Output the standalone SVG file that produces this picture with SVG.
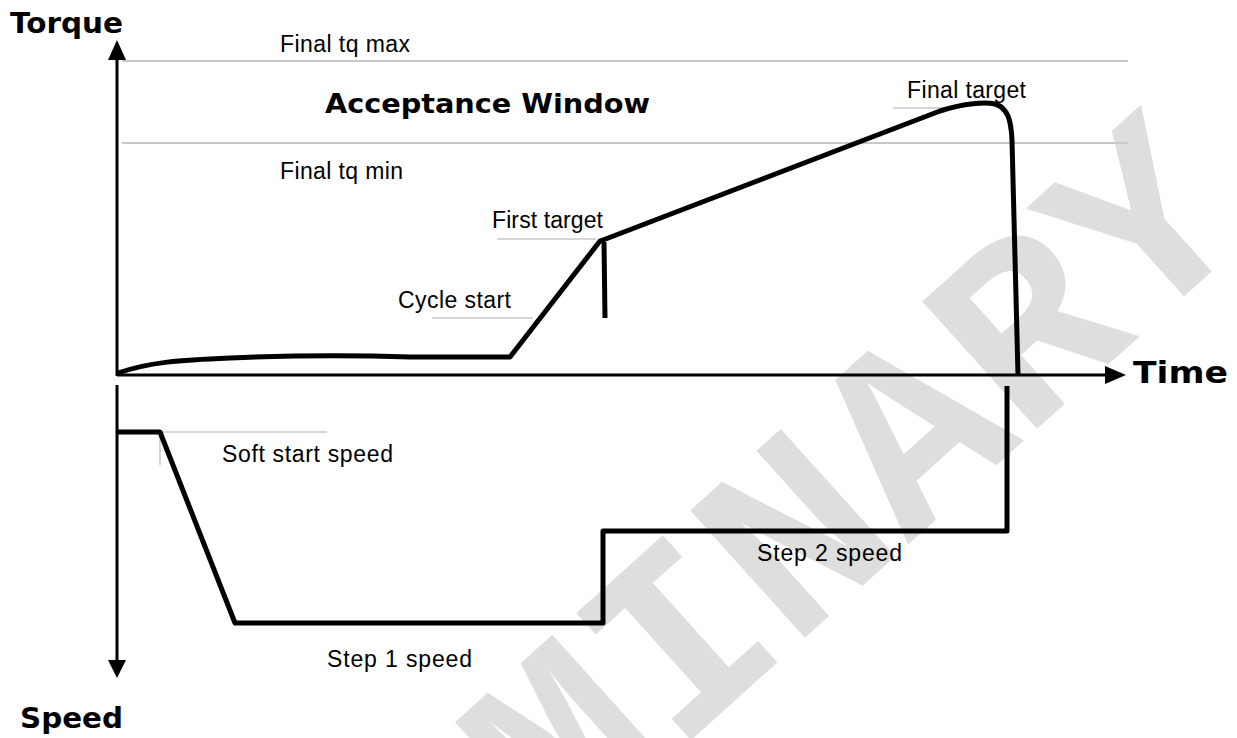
<svg xmlns="http://www.w3.org/2000/svg" width="1237" height="738" viewBox="0 0 1237 738">
<style>
.lbl{font-family:"Liberation Sans",Arial,sans-serif;font-size:23px;fill:#000}
.bold{font-family:"DejaVu Sans","Liberation Sans",sans-serif;font-weight:bold;fill:#000}
.grid{stroke:#c8c8c8;stroke-width:2;fill:none}
.lead{stroke:#c8c8c8;stroke-width:1.5;fill:none}
.curve{stroke:#000;stroke-width:5;fill:none;stroke-linejoin:round;stroke-linecap:butt}
.axis{stroke:#000;stroke-width:3;fill:none}
.wm{font-family:"Liberation Mono","Courier New",monospace;font-weight:bold;font-size:260px;fill:#dedede}
</style>
<rect width="1237" height="738" fill="#fff"/>
<g id="watermark">
<text class="wm" x="0" y="0" transform="translate(-19.5,1380) rotate(-42)">PRELIMINARY</text>
</g>
<g id="window-lines">
<line class="grid" x1="122" y1="61" x2="1128" y2="61"/>
<line class="grid" x1="122" y1="143" x2="1128" y2="143"/>
</g>
<g id="leaders">
<line class="lead" x1="497" y1="239" x2="596" y2="239"/>
<line class="lead" x1="432" y1="318" x2="533" y2="318"/>
<line class="lead" x1="893" y1="108" x2="953" y2="108"/>
<line class="lead" x1="160" y1="432" x2="327" y2="432"/>
<line class="lead" x1="160" y1="432" x2="160" y2="465"/>
</g>
<g id="axes">
<line class="axis" x1="117" y1="376" x2="117" y2="58"/>
<polygon points="117,40 108,60 126,60" fill="#000"/>
<line class="axis" x1="117" y1="375" x2="1107" y2="375"/>
<polygon points="1126,375 1105,366 1105,384" fill="#000"/>
<line class="axis" x1="117" y1="385" x2="117" y2="662"/>
<polygon points="117,678 108,660 126,660" fill="#000"/>
</g>
<g id="torque-curve">
<path class="curve" d="M 118 373 C 150 362 180 360 230 358 C 300 355 350 355 410 357 L 510 357 L 600 241 L 603 240 L 940 111 C 965 103 985 102 995 104 C 1008 108 1011 120 1012 140 L 1018 375"/>
<line class="curve" x1="604" y1="242" x2="605" y2="318"/>
</g>
<g id="speed-curve">
<path class="curve" d="M 118 432 L 160 432 L 235 623 L 603 623 L 603 531 L 1007 531 L 1007 386"/>
</g>
<g id="labels">
<text class="bold" x="10" y="33" font-size="28" textLength="113" lengthAdjust="spacingAndGlyphs">Torque</text>
<text class="lbl" x="280" y="52" textLength="130">Final tq max</text>
<text class="bold" x="325" y="113" font-size="26" textLength="325" lengthAdjust="spacingAndGlyphs">Acceptance Window</text>
<text class="lbl" x="280" y="179" textLength="123">Final tq min</text>
<text class="lbl" x="907" y="98" textLength="119">Final target</text>
<text class="lbl" x="492" y="228" textLength="111">First target</text>
<text class="lbl" x="398" y="308" textLength="113">Cycle start</text>
<text class="bold" x="1133" y="383" font-size="30" textLength="95" lengthAdjust="spacingAndGlyphs">Time</text>
<text class="lbl" x="222" y="462" textLength="171">Soft start speed</text>
<text class="lbl" x="757" y="561" textLength="145">Step 2 speed</text>
<text class="lbl" x="327" y="667" textLength="145">Step 1 speed</text>
<text class="bold" x="20" y="728" font-size="28" textLength="103" lengthAdjust="spacingAndGlyphs">Speed</text>
</g>
</svg>
